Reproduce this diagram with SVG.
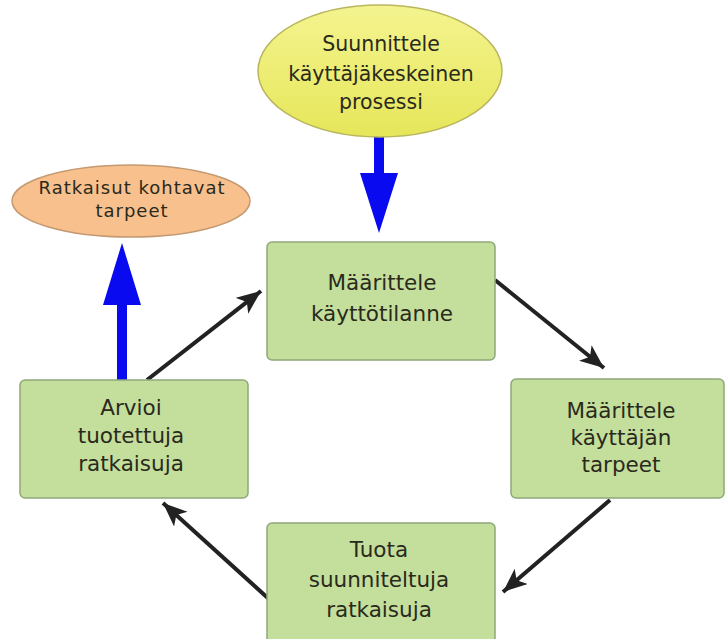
<svg xmlns="http://www.w3.org/2000/svg" width="725" height="639" viewBox="0 0 725 639">
  <defs>
    <marker id="barb" markerUnits="userSpaceOnUse" markerWidth="26" markerHeight="22" refX="24" refY="10" orient="auto">
      <path d="M0,0 L24,10 L0,20 L6,10 Z" fill="#222"/>
    </marker>
    <linearGradient id="yel" x1="0" y1="0" x2="0" y2="1">
      <stop offset="0" stop-color="#f4f490"/>
      <stop offset="1" stop-color="#e6e65a"/>
    </linearGradient>
  </defs>
  <style>
    .box { fill: #c4de9c; stroke: #8fa87a; stroke-width: 1.5; }
    .txt { font-family: "DejaVu Sans", "Liberation Sans", sans-serif; font-size: 21.5px; fill: #2a2a1c; text-anchor: middle; }
    .top { font-size: 20.5px; }
    .small { font-size: 18px; letter-spacing: 1px; }
    .conn { stroke: #222; stroke-width: 4; fill: none; marker-end: url(#barb); }
    .blue { fill: #0a0af0; }
  </style>
  <rect width="725" height="639" fill="#ffffff"/>
  <g id="connectors">
    <line class="conn" x1="147" y1="380" x2="261" y2="291"/>
    <line class="conn" x1="495" y1="280" x2="604" y2="368"/>
    <line class="conn" x1="610" y1="500" x2="503" y2="592"/>
    <line class="conn" x1="270" y1="600" x2="163" y2="503"/>
    <path class="blue" d="M374,136 L384,136 L384,173 L398,173 L379,233 L360,173 L374,173 Z"/>
    <path class="blue" d="M117,381 L127,381 L127,305 L141,305 L122,243 L103,305 L117,305 Z"/>
  </g>
  <g id="start">
    <ellipse cx="380" cy="71" rx="122" ry="66" fill="url(#yel)" stroke="#b9b65e" stroke-width="1.5"/>
    <text class="txt top" x="381" y="51">Suunnittele</text>
    <text class="txt top" x="381" y="81">käyttäjäkeskeinen</text>
    <text class="txt top" x="381" y="109">prosessi</text>
  </g>
  <g id="end">
    <ellipse cx="131" cy="201" rx="119" ry="36" fill="#f8c08c" stroke="#c49a72" stroke-width="1.5"/>
    <text class="txt small" x="132" y="194">Ratkaisut kohtavat</text>
    <text class="txt small" x="132" y="217">tarpeet</text>
  </g>
  <g id="n1">
    <rect class="box" x="267" y="242" width="228" height="118" rx="5"/>
    <text class="txt" x="382" y="290">Määrittele</text>
    <text class="txt" x="382" y="321">käyttötilanne</text>
  </g>
  <g id="n2">
    <rect class="box" x="511" y="379" width="213" height="119" rx="5"/>
    <text class="txt" x="621" y="418">Määrittele</text>
    <text class="txt" x="621" y="445">käyttäjän</text>
    <text class="txt" x="621" y="472">tarpeet</text>
  </g>
  <g id="n3">
    <rect class="box" x="267" y="523" width="228" height="125" rx="5"/>
    <text class="txt" x="379" y="557">Tuota</text>
    <text class="txt" x="379" y="587">suunniteltuja</text>
    <text class="txt" x="379" y="617">ratkaisuja</text>
  </g>
  <g id="n4">
    <rect class="box" x="20" y="380" width="228" height="118" rx="5"/>
    <text class="txt" x="131" y="415">Arvioi</text>
    <text class="txt" x="131" y="443">tuotettuja</text>
    <text class="txt" x="131" y="471">ratkaisuja</text>
  </g>
</svg>
